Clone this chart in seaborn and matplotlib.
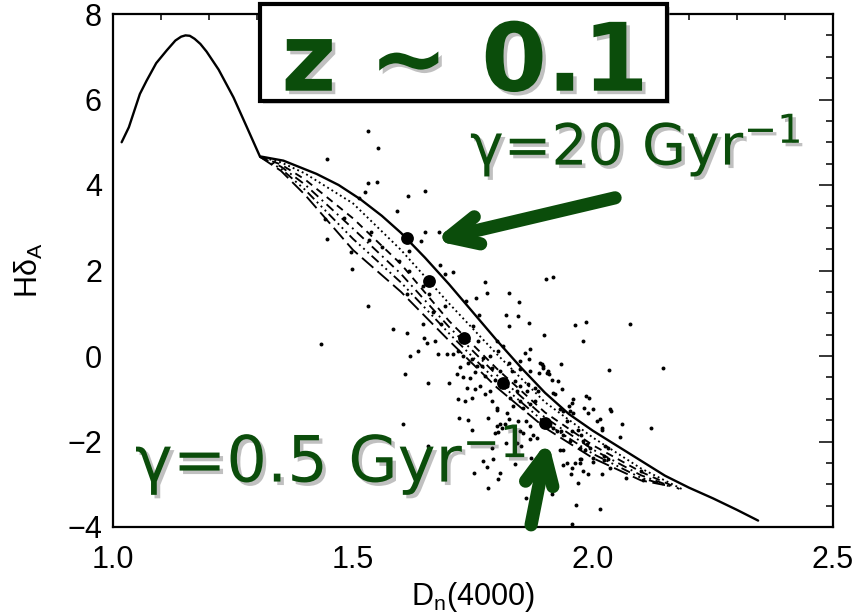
import numpy as np
import pandas as pd
import seaborn as sns
import matplotlib.pyplot as plt
import matplotlib.patheffects as pe
import matplotlib.patches as mpatches
from matplotlib.ticker import MultipleLocator

# --- data ---
# galaxies: Dn(4000), HdeltaA
dn_obs = [1.531, 1.553, 1.445, 1.532, 1.550, 1.526, 1.614, 1.649, 1.513, 1.591,
          1.650, 1.680, 1.641, 1.617, 1.596, 1.681, 1.708, 1.692, 1.616, 1.537,
          1.560, 1.534, 1.498, 1.774, 1.779, 1.824, 1.756, 1.846, 1.902, 1.916,
          1.896, 1.735, 1.659, 1.646, 1.495, 1.612, 1.819, 1.844, 1.866, 1.963,
          1.985, 1.824, 1.532, 1.445, 1.442, 1.481, 1.433, 1.692, 1.667, 1.763,
          1.646, 1.683, 1.749, 1.648, 1.671, 1.654, 1.761, 1.799, 1.812, 1.803,
          1.869, 1.858, 1.848, 1.890, 1.867, 1.785, 1.771, 1.709, 1.719, 1.730,
          1.740, 1.747, 1.758, 1.768, 1.695, 1.678, 1.723, 1.789, 1.806, 1.824,
          1.831, 1.848, 1.869, 1.888, 1.896, 1.716, 1.730, 1.744, 1.754, 1.775,
          1.796, 1.838, 1.820, 1.848, 1.865, 1.879, 1.657, 1.699, 1.737, 1.754,
          1.765, 1.785, 1.841, 1.862, 1.886, 1.719, 1.747, 1.733, 1.775, 1.789,
          1.799, 1.827, 1.848, 1.869, 1.879, 1.834, 1.855, 1.898, 1.980, 1.933,
          2.033, 2.145, 1.893, 1.896, 1.904, 1.907, 1.909, 1.914, 1.928, 1.935,
          1.917, 1.921, 1.959, 1.956, 1.985, 1.992, 1.949, 1.952, 1.959, 1.981,
          1.990, 2.001, 2.035, 2.038, 1.931, 1.938, 1.945, 2.008, 2.015, 2.018,
          2.018, 2.060, 2.056, 2.120, 1.910, 1.917, 1.924, 1.933, 1.938, 1.956,
          1.969, 1.976, 1.980, 1.987, 1.994, 1.983, 1.931, 1.938, 1.973, 2.025,
          2.032, 1.952, 2.001, 2.022, 2.032, 1.973, 1.721, 1.740, 1.747, 1.782,
          1.801, 1.820, 1.824, 1.817, 1.799, 1.806, 1.810, 1.796, 1.803, 1.844,
          1.848, 1.855, 1.860, 1.869, 1.876, 1.883, 1.869, 1.841, 1.789, 1.792,
          1.770, 1.779, 1.806, 1.803, 1.838, 1.753, 1.781, 1.657, 1.860, 1.819,
          1.850, 1.870, 1.938, 1.945, 1.956, 1.963, 1.973, 1.976, 1.954, 1.979,
          1.990, 2.001, 2.018, 2.022, 2.035, 1.968, 1.914, 1.964, 2.015, 1.957,
          2.069, 2.105, 2.101, 2.077, 1.604, 1.608, 1.612, 1.636, 1.619, 1.584]
hd_obs = [5.26, 4.87, 4.61, 4.05, 4.08, 3.83, 3.75, 3.87, 3.69, 3.40,
          2.89, 2.91, 2.68, 2.46, 2.23, 2.14, 1.97, 1.91, 1.99, 2.89,
          2.54, 2.71, 2.03, 1.73, 1.48, 1.47, 1.36, 1.27, 1.80, 1.85,
          3.40, 1.28, 1.45, 1.64, 2.44, 1.45, 0.95, 0.94, 0.77, 0.73,
          0.80, 0.70, 1.17, 2.73, 3.20, 3.23, 0.28, 1.17, 1.02, 0.96,
          0.74, 0.74, 0.70, 0.43, 0.35, 0.31, 0.35, 0.34, 0.23, 0.12,
          0.16, 0.08, -0.12, -0.16, -0.08, 0.00, -0.04, 0.04, 0.12, 0.00,
          -0.16, -0.08, -0.23, -0.23, 0.04, 0.04, -0.26, -0.29, -0.35, -0.16,
          -0.35, -0.31, -0.35, -0.39, -0.23, -0.43, -0.49, -0.52, -0.37, -0.47,
          -0.55, -0.59, -0.70, -0.70, -0.66, -0.74, -0.63, -0.63, -0.74, -0.78,
          -0.70, -0.82, -0.82, -0.82, -0.82, -1.01, -0.98, -1.05, -0.90, -1.05,
          -1.21, -0.98, -1.05, -1.13, -1.05, -1.17, -1.21, 0.49, 0.35, -0.18,
          -0.33, -0.27, -0.19, -0.27, -0.39, -0.35, -0.43, -0.55, -0.59, -0.78,
          -0.86, -0.90, -1.01, -1.09, -0.94, -0.99, -1.17, -1.29, -1.33, -1.21,
          -1.33, -1.23, -1.25, -1.29, -1.25, -1.29, -1.52, -1.52, -1.48, -1.68,
          -1.72, -1.60, -1.90, -1.69, -1.60, -1.68, -1.76, -1.76, -1.84, -1.76,
          -1.74, -1.84, -1.99, -2.07, -2.15, -2.19, -2.19, -2.19, -2.15, -2.11,
          -2.15, -1.99, -2.38, -2.34, -2.42, -2.42, -1.45, -1.50, -1.73, -1.45,
          -1.27, -1.34, -1.48, -1.60, -1.64, -1.60, -1.68, -1.80, -1.78, -1.52,
          -1.76, -1.80, -1.52, -1.64, -1.84, -1.91, -1.95, -2.03, -2.15, -2.42,
          -2.46, -2.59, -2.73, -2.88, -2.52, -2.73, -3.09, -2.11, -3.32, -2.03,
          -2.11, -2.38, -2.54, -2.50, -2.62, -2.51, -2.51, -2.41, -2.75, -2.70,
          -2.77, -2.48, -2.75, -2.44, -2.62, -2.97, -3.23, -3.49, -3.58, -3.92,
          -2.85, -2.89, -2.70, 0.74, -1.59, -0.43, 0.53, 0.12, 0.00, 0.63]

# single burst track (solid)
dn_ssp = [1.018, 1.033, 1.056, 1.070, 1.090, 1.112, 1.130, 1.142, 1.151, 1.160,
          1.170, 1.182, 1.195, 1.220, 1.251, 1.279, 1.306, 1.355, 1.424, 1.470,
          1.515, 1.560, 1.600, 1.650, 1.700, 1.750, 1.800, 1.850, 1.900, 1.950,
          2.000, 2.050, 2.100, 2.150, 2.200, 2.250, 2.300, 2.344]
hd_ssp = [5.00, 5.35, 6.13, 6.44, 6.85, 7.15, 7.38, 7.47, 7.50, 7.49,
          7.42, 7.30, 7.12, 6.70, 6.05, 5.35, 4.67, 4.57, 4.26, 4.00,
          3.67, 3.28, 2.88, 2.30, 1.68, 1.02, 0.36, -0.27, -0.86, -1.36,
          -1.75, -2.10, -2.45, -2.80, -3.08, -3.33, -3.60, -3.85]

# exponentially declining models, gamma from 20 to 0.5 Gyr^-1
dn_tau = [1.306, 1.35, 1.40, 1.50, 1.60, 1.70, 1.80, 1.90, 2.00, 2.10]
hd_tau1 = [4.66, 4.53, 4.27, 3.57, 2.48, 1.23, 0.04, -1.08, -1.91, -2.63]
hd_tau2 = [4.66, 4.48, 4.13, 3.22, 2.15, 0.82, -0.30, -1.32, -2.09, -2.71]
hd_tau3 = [4.66, 4.43, 4.01, 2.98, 1.92, 0.68, -0.45, -1.44, -2.19, -2.79]
hd_tau4 = [4.66, 4.38, 3.89, 2.74, 1.72, 0.53, -0.59, -1.56, -2.29, -2.85]
hd_tau5 = [4.66, 4.33, 3.77, 2.48, 1.50, 0.36, -0.74, -1.68, -2.39, -2.91]
dn_end = [2.19, 2.18, 2.17, 2.16, 2.15]
hd_end = [-3.14, -3.11, -3.08, -3.05, -3.02]

# marked model points
dn_mark = [1.612, 1.659, 1.732, 1.813, 1.901]
hd_mark = [2.77, 1.76, 0.41, -0.62, -1.56]

green = '#0b4d0b'

sns.set_theme(style='white')
plt.rcParams['font.family'] = ['Liberation Sans', 'DejaVu Sans']
plt.rcParams.update({'mathtext.fontset': 'custom',
                     'mathtext.rm': 'Liberation Sans',
                     'mathtext.it': 'Liberation Sans:italic',
                     'mathtext.default': 'regular'})

fig = plt.figure(figsize=(8.59, 6.13), dpi=100)
ax = fig.add_axes([113/859, 1-527/613, 720/859, 513/613])

#scatter of galaxies
sns.scatterplot(x=dn_obs, y=hd_obs, s=8, color='black', linewidth=0, ax=ax)

#model tracks
sns.lineplot(x=dn_ssp, y=hd_ssp, sort=False, estimator=None, color='black', lw=1.7, ax=ax)
styles = [':', (0, (4, 3)), (0, (5, 2.5, 1, 2.5)), (0, (5, 2, 1, 2, 1, 2, 1, 2)), (0, (8, 3))]
for hd, st, xe, ye in zip([hd_tau1, hd_tau2, hd_tau3, hd_tau4, hd_tau5], styles, dn_end, hd_end):
    sns.lineplot(x=dn_tau + [xe], y=hd + [ye], sort=False, estimator=None,
                 color='black', lw=1.35, linestyle=st, ax=ax)

sns.scatterplot(x=dn_mark, y=hd_mark, s=85, color='black', linewidth=0, zorder=4, ax=ax)

#axes
ax.set_xlim(1.0, 2.5)
ax.set_ylim(-4, 8)
ax.xaxis.set_major_locator(MultipleLocator(0.5))
ax.xaxis.set_minor_locator(MultipleLocator(0.1))
ax.yaxis.set_major_locator(MultipleLocator(2))
ax.yaxis.set_minor_locator(MultipleLocator(0.5))
ax.xaxis.set_major_formatter(plt.FormatStrFormatter('%.1f'))
ax.tick_params(which='both', direction='in', top=True, right=True, width=1.1, color='black',
               labelcolor='black', labelsize=22)
ax.tick_params(axis='y', which='major', length=10, pad=8)
ax.tick_params(axis='y', which='minor', length=5)
ax.tick_params(axis='x', which='major', length=8, pad=13)
ax.tick_params(axis='x', which='minor', length=4)
for sp in ax.spines.values():
    sp.set_color('black')
    sp.set_linewidth(1.6)
ax.grid(False)

ax.set_xlabel('D$_{n}$(4000)', fontsize=22, color='black')
ax.set_ylabel('H$\\delta_{A}$', fontsize=22, color='black')
ax.xaxis.set_label_coords(0.5, -0.104)
ax.yaxis.set_label_coords(-0.094, 0.5)

#title box
shadow = mpatches.Rectangle((263/859, 1-104/613), 407/859, 97/613, transform=fig.transFigure,
                            facecolor='0.6', edgecolor='none', alpha=0.4, zorder=5, clip_on=False)
box = mpatches.Rectangle((260/859, 1-101/613), 407/859, 97/613, transform=fig.transFigure,
                         facecolor='white', edgecolor='black', lw=3, zorder=6, clip_on=False)
ax.add_patch(shadow)
ax.add_patch(box)
shade = [pe.withSimplePatchShadow(offset=(2.5, -2.5), shadow_rgbFace='0.3', alpha=0.35)]
fig.text(465/859, 1-90.7/613, 'z ~ 0.1', fontsize=68, fontweight='bold', family='DejaVu Sans',
         color=green, ha='center', va='baseline', zorder=7, path_effects=shade)

fig.text(470/859, 1-165/613, 'γ=20 Gyr$^{-1}$', fontsize=41, family='DejaVu Sans',
         math_fontfamily='dejavusans', color=green, ha='left', va='baseline', path_effects=shade)
fig.text(135/859, 1-482/613, 'γ=0.5 Gyr$^{-1}$', fontsize=46, family='DejaVu Sans',
         math_fontfamily='dejavusans', color=green, ha='left', va='baseline', path_effects=shade)

#arrows
arw = dict(arrowstyle='->,head_length=1.05,head_width=0.5', lw=9.5, color=green,
           mutation_scale=20, shrinkA=0, shrinkB=0)
ax.annotate('', xy=(1.669, 2.70), xytext=(2.046, 3.70), arrowprops=arw, annotation_clip=False)
ax.annotate('', xy=(1.906, -1.97), xytext=(1.871, -3.95), arrowprops=arw, annotation_clip=False)

fig.savefig('out.png', dpi=100)
